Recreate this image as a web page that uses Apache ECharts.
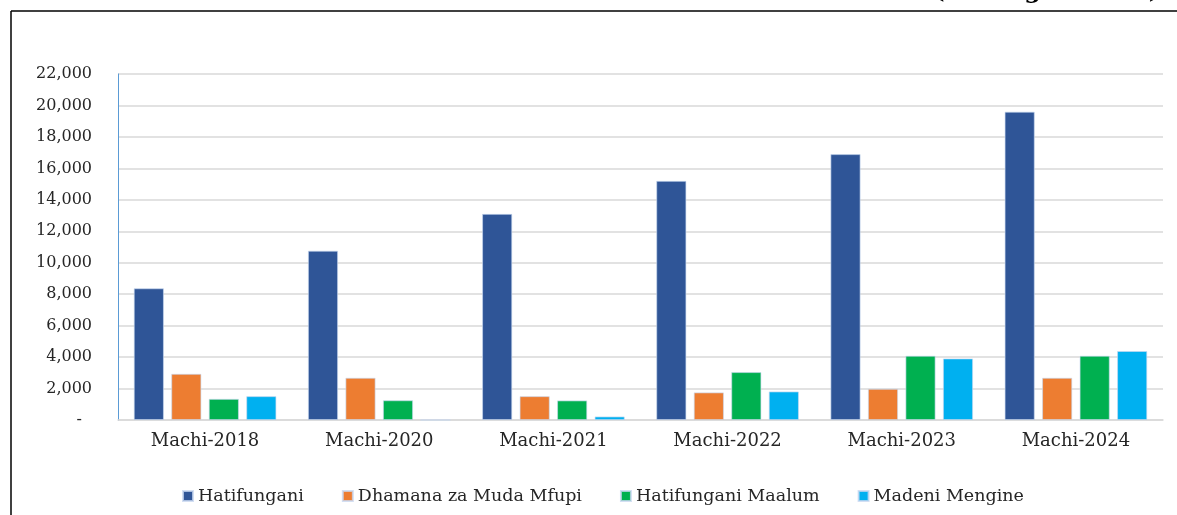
<!DOCTYPE html>
<html><head><meta charset="utf-8">
<script src="https://cdn.jsdelivr.net/npm/echarts@6/dist/echarts.min.js"></script>
<style>html,body{margin:0;padding:0;background:#fff}#c{width:1177px;height:515px}</style>
</head><body><div id="c"></div>
<script>
var categories = ['Machi-2018','Machi-2020','Machi-2021','Machi-2022','Machi-2023','Machi-2024'];
var seriesNames = ['Hatifungani','Dhamana za Muda Mfupi','Hatifungani Maalum','Madeni Mengine'];
var hatifungani = [8370, 10760, 13100, 15200, 16900, 19600];
var dhamana = [2930, 2680, 1510, 1750, 1980, 2680];
var maalum = [1340, 1250, 1240, 3040, 4080, 4080];
var mengine = [1510, 0, 220, 1810, 3910, 4380];
var colors = ['#2F5597','#ED7D31','#00B050','#00B0F0'];
var titleText = '(Shilingi Bilioni)';
var FONT = '"DejaVu Serif", serif';

var chart = echarts.init(document.getElementById('c'));
var dataSets = [hatifungani, dhamana, maalum, mengine];
chart.setOption({
  animation: false,
  color: colors,
  grid: {left: 118, right: 14, top: 74, bottom: 95, containLabel: false},
  legend: {
    left: 177, top: 482, itemWidth: 10, itemHeight: 10, itemGap: 38, icon: 'rect',
    textStyle: {fontFamily: FONT, fontSize: 17.5, color: '#262626'},
    data: seriesNames
  },
  xAxis: {
    type: 'category', data: categories,
    axisLine: {lineStyle: {color: '#D9D9D9', width: 1.5}},
    axisTick: {show: false},
    axisLabel: {fontFamily: FONT, fontSize: 18, color: '#262626', margin: 12}
  },
  yAxis: {
    type: 'value', min: 0, max: 22000, interval: 2000,
    axisLine: {show: true, lineStyle: {color: '#5B9BD5', width: 1}},
    axisTick: {show: false},
    splitLine: {lineStyle: {color: '#D9D9D9', width: 1.5}},
    axisLabel: {
      fontFamily: FONT, fontSize: 16, color: '#262626', margin: 26,
      formatter: function (v) { return v === 0 ? '-\u2007' : v.toLocaleString('en-US'); }
    }
  },
  graphic: [
    {type: 'line', shape: {x1: 11, y1: 11, x2: 1177, y2: 11}, style: {stroke: '#000', lineWidth: 1.5}, silent: true},
    {type: 'line', shape: {x1: 11, y1: 11, x2: 11, y2: 515}, style: {stroke: '#000', lineWidth: 1.5}, silent: true},
    {type: 'text', right: 17, top: -20, style: {text: titleText, font: 'bold 24px ' + FONT, fill: '#000'}, silent: true}
  ],
  series: seriesNames.map(function (n, i) {
    return {
      name: n, type: 'bar', data: dataSets[i], barWidth: 30, barGap: '25%',
      itemStyle: {color: colors[i], borderColor: 'rgba(200,215,240,0.8)', borderWidth: 0.8}
    };
  })
});
</script></body></html>
